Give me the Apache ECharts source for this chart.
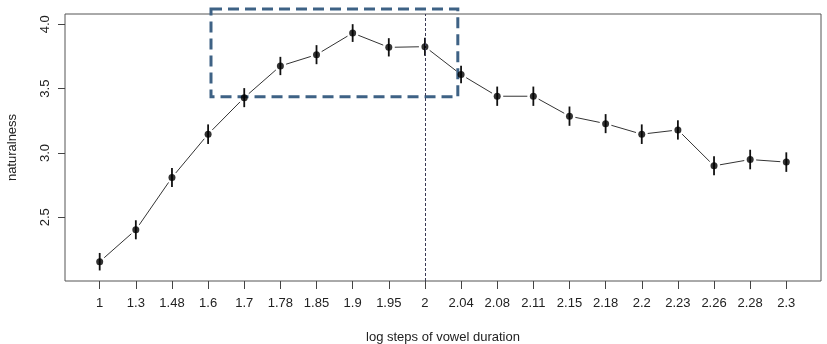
<!DOCTYPE html>
<html>
<head>
<meta charset="utf-8">
<script src="https://cdn.jsdelivr.net/npm/echarts@6/dist/echarts.min.js"></script>
<style>
  html, body { margin: 0; padding: 0; background: #fff; }
  #chart { width: 827px; height: 344px; }
</style>
</head>
<body>
<div id="chart"></div>
<script>
// Duration steps (log scale) shown as categorical positions 1..20
const steps = ['1', '1.3', '1.48', '1.6', '1.7', '1.78', '1.85', '1.9', '1.95', '2',
               '2.04', '2.08', '2.11', '2.15', '2.18', '2.2', '2.23', '2.26', '2.28', '2.3'];
// Mean naturalness rating per step
const means = [2.155, 2.403, 2.809, 3.146, 3.430, 3.676, 3.764, 3.932, 3.821, 3.826,
               3.609, 3.441, 3.441, 3.286, 3.228, 3.146, 3.179, 2.900, 2.949, 2.929];
// Standard error per step
const errors = [0.068, 0.074, 0.074, 0.076, 0.074, 0.071, 0.074, 0.069, 0.071, 0.070,
                0.068, 0.075, 0.075, 0.075, 0.074, 0.076, 0.075, 0.074, 0.076, 0.076];
const yTicks = [2.5, 3.0, 3.5, 4.0];
// Reference step (x position of '2') and highlighted region
const refStep = 10;
const regionX = [4.08, 10.91];
const regionY = [3.436, 4.119];

const positions = steps.map((_, i) => i + 1);
const points = means.map((m, i) => [i + 1, m, errors[i]]);

const font = 'Liberation Sans, Arial, sans-serif';
const chart = echarts.init(document.getElementById('chart'));

chart.setOption({
  animation: false,
  grid: {
    left: 65, right: 6, top: 14, bottom: 63,
    outerBoundsMode: 'none',
    show: true, borderColor: '#555', borderWidth: 1, backgroundColor: 'transparent'
  },
  xAxis: {
    type: 'value', min: 0.04, max: 20.96,
    name: 'log steps of vowel duration', nameLocation: 'middle', nameGap: 50,
    nameTextStyle: { fontFamily: font, fontSize: 13, color: '#222' },
    axisLine: { show: false },
    axisTick: { show: true, customValues: positions, length: 8, lineStyle: { color: '#444' } },
    axisLabel: {
      customValues: positions, margin: 16,
      fontFamily: font, fontSize: 13, color: '#222',
      formatter: v => steps[Math.round(v) - 1]
    },
    splitLine: { show: false }
  },
  yAxis: {
    type: 'value', min: 2.005, max: 4.08,
    name: 'naturalness', nameLocation: 'middle', nameGap: 46, nameRotate: 90,
    nameTextStyle: { fontFamily: font, fontSize: 13, color: '#222' },
    axisLine: { show: false },
    axisTick: { show: true, customValues: yTicks, length: 7, lineStyle: { color: '#444' } },
    axisLabel: {
      customValues: yTicks, rotate: 90, margin: 13,
      fontFamily: font, fontSize: 13, color: '#222',
      formatter: v => v.toFixed(1)
    },
    splitLine: { show: false }
  },
  series: [
    {
      // connecting line, broken around each point
      type: 'custom',
      data: points.slice(0, -1).map((p, i) => [p[0], p[1], points[i + 1][0], points[i + 1][1]]),
      renderItem: (params, api) => {
        const a = api.coord([api.value(0), api.value(1)]);
        const b = api.coord([api.value(2), api.value(3)]);
        const dx = b[0] - a[0], dy = b[1] - a[1];
        const len = Math.sqrt(dx * dx + dy * dy);
        const gap = 6;
        if (len <= gap * 2) return null;
        const ux = dx / len, uy = dy / len;
        return {
          type: 'line',
          shape: { x1: a[0] + ux * gap, y1: a[1] + uy * gap, x2: b[0] - ux * gap, y2: b[1] - uy * gap },
          style: { stroke: '#333', lineWidth: 1 }
        };
      },
      silent: true, z: 2
    },
    {
      // error bars
      type: 'custom',
      data: points,
      renderItem: (params, api) => {
        const x = api.value(0), y = api.value(1), e = api.value(2);
        const lo = api.coord([x, y - e]);
        const hi = api.coord([x, y + e]);
        return {
          type: 'line',
          shape: { x1: lo[0], y1: lo[1], x2: hi[0], y2: hi[1] },
          style: { stroke: '#111', lineWidth: 1.8 }
        };
      },
      silent: true, z: 3
    },
    {
      // dashed highlight box around the peak region (may extend past the plot frame)
      type: 'custom',
      clip: false,
      data: [[regionX[0], regionY[1], regionX[1], regionY[0]]],
      renderItem: (params, api) => {
        const p0 = api.coord([api.value(0), api.value(1)]);
        const p1 = api.coord([api.value(2), api.value(3)]);
        return {
          type: 'rect',
          shape: { x: p0[0], y: p0[1], width: p1[0] - p0[0], height: p1[1] - p0[1] },
          style: { fill: 'none', stroke: '#3e6285', lineWidth: 3, lineDash: [11, 6] }
        };
      },
      silent: true, z: 1
    },
    {
      type: 'scatter',
      data: points.map(p => [p[0], p[1]]),
      symbol: 'circle', symbolSize: 7,
      itemStyle: { color: '#000' },
      clip: false, silent: true, z: 4,
      markLine: {
        silent: true, symbol: 'none',
        label: { show: false },
        lineStyle: { color: '#3a3a55', width: 1, type: [3, 2] },
        data: [{ xAxis: refStep }]
      }
    }
  ]
});
</script>
</body>
</html>
